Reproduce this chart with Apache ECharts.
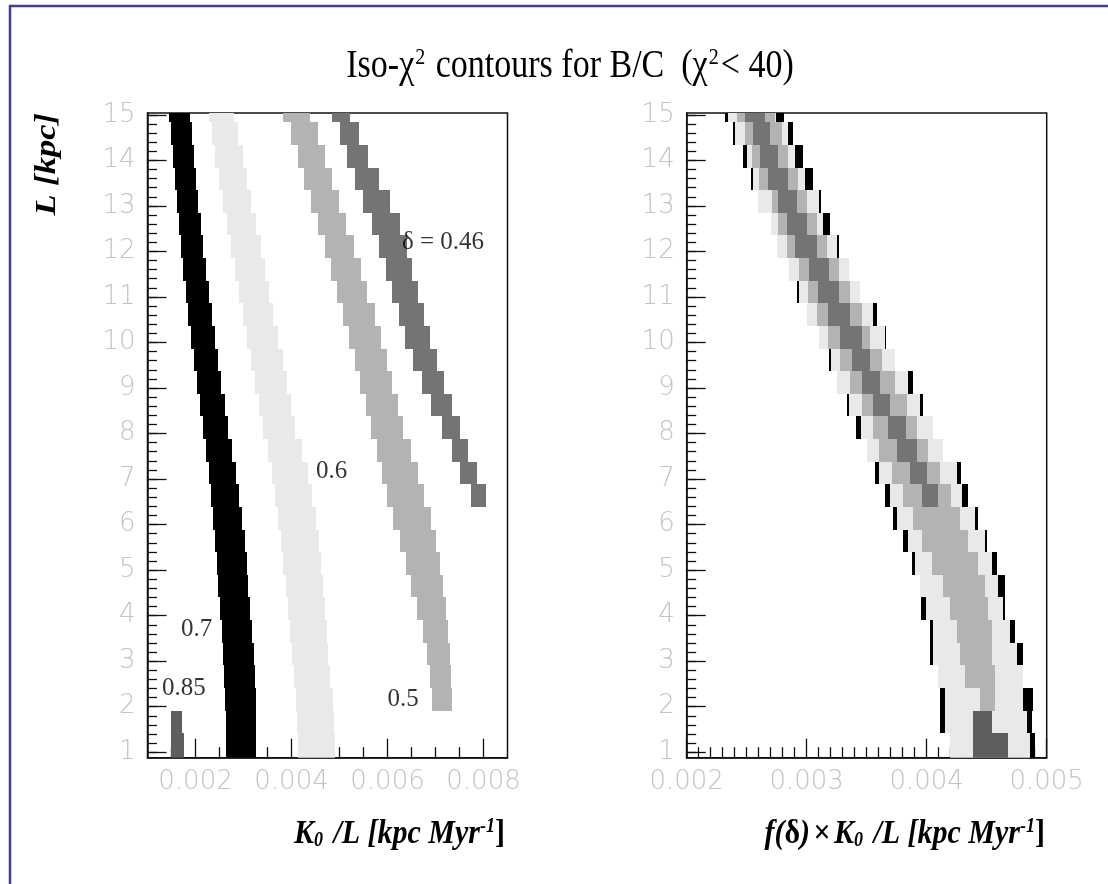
<!DOCTYPE html>
<html>
<head>
<meta charset="utf-8">
<script src="https://cdn.jsdelivr.net/npm/echarts@6/dist/echarts.min.js"></script>
<style>html,body{margin:0;padding:0;background:#fff;}#c{width:1108px;height:884px;}</style>
</head>
<body>
<div id="c"></div>
<script>
// ---------- DATA ----------
// L bin edges (kpc), 29 rows
const L_EDGES = [0.88, 1.417, 1.914, 2.411, 2.908, 3.405, 3.902, 4.399, 4.896, 5.393, 5.890, 6.387, 6.884, 7.381, 7.878, 8.375, 8.872, 9.369, 9.866, 10.363, 10.860, 11.357, 11.854, 12.351, 12.848, 13.345, 13.842, 14.339, 14.836, 15.04];

const Y_TICKS = [1, 2, 3, 4, 5, 6, 7, 8, 9, 10, 11, 12, 13, 14, 15];
const LEFT_X_TICKS = [0.002, 0.004, 0.006, 0.008];
const LEFT_X_MINOR = [0.0015, 0.0025, 0.003, 0.0035, 0.0045, 0.005, 0.0055, 0.0065, 0.007, 0.0075];
const RIGHT_X_TICKS = [0.002, 0.003, 0.004, 0.005];

// Left panel: K0/L extent [left, right] of each iso-chi2 band per L row (row 0 = bottom)
const LEFT_D085 = [[0.00148, 0.00175], [0.00148, 0.00171]];
const LEFT_D07 = [
  [0.00264, 0.00326], [0.00264, 0.00326], [0.00262, 0.00326], [0.00259, 0.00324], [0.00257, 0.00322],
  [0.00255, 0.00318], [0.00251, 0.00314], [0.00247, 0.00309], [0.00245, 0.00307], [0.00241, 0.00303],
  [0.00237, 0.00297], [0.00232, 0.00291], [0.00228, 0.00284], [0.00222, 0.00276], [0.00216, 0.00268],
  [0.00209, 0.00262], [0.00203, 0.00253], [0.00197, 0.00247], [0.00191, 0.00241], [0.00184, 0.00234],
  [0.00180, 0.00228], [0.00174, 0.00222], [0.00170, 0.00216], [0.00166, 0.00212], [0.00162, 0.00205],
  [0.00157, 0.00201], [0.00153, 0.00197], [0.00149, 0.00193], [0.00145, 0.00189]
];
const LEFT_D06 = [
  [0.00414, 0.00491], [0.00412, 0.00489], [0.00409, 0.00487], [0.00405, 0.00480], [0.00401, 0.00476],
  [0.00397, 0.00474], [0.00393, 0.00470], [0.00389, 0.00466], [0.00382, 0.00462], [0.00378, 0.00457],
  [0.00372, 0.00451], [0.00366, 0.00443], [0.00359, 0.00434], [0.00351, 0.00422], [0.00341, 0.00407],
  [0.00332, 0.00399], [0.00324, 0.00391], [0.00316, 0.00382], [0.00307, 0.00372], [0.00299, 0.00362],
  [0.00291, 0.00353], [0.00282, 0.00345], [0.00274, 0.00337], [0.00266, 0.00326], [0.00257, 0.00316],
  [0.00249, 0.00307], [0.00241, 0.00299], [0.00234, 0.00289], [0.00228, 0.00280]
];
const LEFT_D05 = [
  null, null, [0.00692, 0.00734], [0.00688, 0.00732], [0.00682, 0.00730],
  [0.00674, 0.00726], [0.00662, 0.00722], [0.00649, 0.00716], [0.00638, 0.00710], [0.00626, 0.00702],
  [0.00612, 0.00690], [0.00598, 0.00676], [0.00588, 0.00664], [0.00578, 0.00648], [0.00566, 0.00632],
  [0.00555, 0.00622], [0.00543, 0.00609], [0.00532, 0.00599], [0.00520, 0.00587], [0.00507, 0.00574],
  [0.00495, 0.00557], [0.00482, 0.00545], [0.00470, 0.00530], [0.00455, 0.00514], [0.00441, 0.00499],
  [0.00426, 0.00484], [0.00414, 0.00470], [0.00399, 0.00455], [0.00382, 0.00439]
];
const LEFT_D046 = [
  null, null, null, null, null, null, null, null, null, null, null,
  [0.00775, 0.00805], [0.00751, 0.00786], [0.00734, 0.00768], [0.00714, 0.00751],
  [0.00690, 0.00734], [0.00672, 0.00718], [0.00654, 0.00703], [0.00637, 0.00689], [0.00623, 0.00676],
  [0.00610, 0.00664], [0.00596, 0.00652], [0.00582, 0.00640], [0.00568, 0.00626], [0.00550, 0.00605],
  [0.00532, 0.00583], [0.00516, 0.00560], [0.00500, 0.00540], [0.00484, 0.00521]
];

// Right panel: f(delta) x K0/L extent [left, right] per L row (row 0 = bottom)
const RIGHT_D07 = [
  [0.004194, 0.004903], [0.004111, 0.004875], [0.004111, 0.004889], [0.004097, 0.004806], [0.004028, 0.004806],
  [0.004028, 0.004736], [0.003950, 0.004656], [0.003944, 0.004653], [0.003875, 0.004583], [0.003806, 0.004500],
  [0.003722, 0.004431], [0.003653, 0.004347], [0.003569, 0.004283], [0.003500, 0.004139], [0.003411, 0.004050],
  [0.003339, 0.003967], [0.003256, 0.003889], [0.003189, 0.003736], [0.003106, 0.003661], [0.003000, 0.003589],
  [0.002922, 0.003444], [0.002856, 0.003356], [0.002750, 0.003269], [0.002703, 0.003194], [0.002597, 0.003117],
  [0.002536, 0.003050], [0.002472, 0.002972], [0.002389, 0.002889], [0.002319, 0.002811]
];
const RIGHT_D06 = [
  [0.004194, 0.004861], [0.004153, 0.004833], [0.004153, 0.004806], [0.004097, 0.004800], [0.004050, 0.004750],
  [0.004050, 0.004694], [0.003994, 0.004639], [0.003944, 0.004597], [0.003903, 0.004542], [0.003847, 0.004486],
  [0.003750, 0.004403], [0.003694, 0.004292], [0.003603, 0.004250], [0.003500, 0.004139], [0.003450, 0.004050],
  [0.003356, 0.003944], [0.003256, 0.003847], [0.003203, 0.003736], [0.003106, 0.003653], [0.003000, 0.003556],
  [0.002939, 0.003444], [0.002856, 0.003356], [0.002750, 0.003256], [0.002703, 0.003133], [0.002597, 0.003106],
  [0.002550, 0.002986], [0.002506, 0.002903], [0.002406, 0.002847], [0.002347, 0.002744]
];
const RIGHT_D05 = [
  null, null, [0.004444, 0.004569], [0.004319, 0.004569], [0.004278, 0.004542],
  [0.004250, 0.004542], [0.004194, 0.004514], [0.004139, 0.004486], [0.004042, 0.004431], [0.003958, 0.004347],
  [0.003889, 0.004278], [0.003806, 0.004200], [0.003708, 0.004111], [0.003606, 0.004008], [0.003556, 0.003922],
  [0.003458, 0.003833], [0.003361, 0.003736], [0.003278, 0.003625], [0.003181, 0.003528], [0.003083, 0.003458],
  [0.003014, 0.003361], [0.002939, 0.003272], [0.002833, 0.003167], [0.002764, 0.003083], [0.002708, 0.003000],
  [0.002606, 0.002931], [0.002542, 0.002847], [0.002486, 0.002792], [0.002417, 0.002736]
];
const RIGHT_D046 = [
  null, null, null, null, null, null, null, null, null, null, null,
  [0.003958, 0.004097], [0.003861, 0.004000], [0.003750, 0.003917], [0.003681, 0.003825],
  [0.003556, 0.003694], [0.003458, 0.003611], [0.003375, 0.003528], [0.003278, 0.003458], [0.003181, 0.003361],
  [0.003097, 0.003272], [0.003022, 0.003189], [0.002903, 0.003083], [0.002833, 0.003000], [0.002764, 0.002917],
  [0.002681, 0.002847], [0.002611, 0.002764], [0.002556, 0.002694], [0.002486, 0.002653]
];
const RIGHT_D085 = [[0.004389, 0.004681], [0.004389, 0.004542]];

// Band annotations on the left panel: [text, K0/L, L]
const LABELS = [
  ['δ = 0.46', 0.0063, 12.2],
  ['0.6', 0.00451, 7.16],
  ['0.7', 0.0017, 3.69],
  ['0.85', 0.0013, 2.41],
  ['0.5', 0.0060, 2.17]
];

// ---------- BUILD ----------
const COLORS = { d085: '#5e5e5e', d07: '#000000', d06: '#e9e9e9', d05: '#b3b3b3', d046: '#747474' };

function cells(band) {
  const out = [];
  band.forEach((c, i) => { if (c) out.push([c[0], L_EDGES[i], c[1], L_EDGES[i + 1]]); });
  return out;
}
function renderCell(params, api) {
  const p0 = api.coord([api.value(0), api.value(3)]);
  const p1 = api.coord([api.value(2), api.value(1)]);
  const cs = params.coordSys;
  const x0 = Math.round(p0[0]), y0 = Math.round(p0[1]);
  const x1 = Math.round(p1[0]), y1 = Math.round(p1[1]);
  const r = echarts.graphic.clipRectByRect(
    { x: x0, y: y0, width: Math.max(1, x1 - x0), height: y1 - y0 },
    { x: cs.x, y: cs.y, width: cs.width, height: cs.height });
  if (!r) return null;
  return { type: 'rect', shape: r, style: { fill: api.visual('color') } };
}
function bandSeries(band, color, xi, yi) {
  return { type: 'custom', xAxisIndex: xi, yAxisIndex: yi, renderItem: renderCell,
    itemStyle: { color: color }, encode: { x: [0, 2], y: [1, 3] }, data: cells(band), silent: true, z: 3 };
}
function range(a, b, step, skip) {
  const r = [];
  for (let v = a; v <= b + step / 10; v += step) {
    const xv = +(Math.round(v / step) * step).toFixed(6);
    if (!skip || skip.indexOf(xv) < 0) r.push(xv);
  }
  return r;
}
const Y_MINOR = range(1, 15, 0.2);
const RIGHT_X_MINOR = range(0.0021, 0.0049, 0.0001, RIGHT_X_TICKS);

const Y_MIN = 0.88, Y_MAX = 15.04;
const tickLabelStyle = { color: '#c4c4c4', fontFamily: 'DejaVu Sans', fontWeight: 200, fontSize: 26 };
const axisLineStyle = { color: '#111', width: 1.5 };

function mainY(gi) {
  return { type: 'value', gridIndex: gi, min: Y_MIN, max: Y_MAX, position: 'left',
    axisLine: { show: true, lineStyle: axisLineStyle },
    axisTick: { show: true, inside: true, length: 19, customValues: Y_TICKS, lineStyle: { color: '#111', width: 1.3 } },
    axisLabel: Object.assign({ show: true, margin: 12, customValues: Y_TICKS, formatter: v => String(v) }, tickLabelStyle),
    splitLine: { show: false } };
}
function minorY(gi) {
  return { type: 'value', gridIndex: gi, min: Y_MIN, max: Y_MAX, position: 'left',
    axisLine: { show: false },
    axisTick: { show: true, inside: true, length: 9.5, customValues: Y_MINOR, lineStyle: { color: '#111', width: 1.3 } },
    axisLabel: { show: false }, splitLine: { show: false } };
}
function mainX(gi, min, max, ticks) {
  return { type: 'value', gridIndex: gi, min: min, max: max, position: 'bottom',
    axisLine: { show: true, lineStyle: axisLineStyle },
    axisTick: { show: true, inside: true, length: 19, customValues: ticks, lineStyle: { color: '#111', width: 1.3 } },
    axisLabel: Object.assign({ show: true, margin: 12, customValues: ticks, formatter: v => v.toFixed(3) }, tickLabelStyle),
    splitLine: { show: false } };
}
function minorX(gi, min, max, ticks) {
  return { type: 'value', gridIndex: gi, min: min, max: max, position: 'bottom',
    axisLine: { show: false },
    axisTick: { show: true, inside: true, length: 10.5, customValues: ticks, lineStyle: { color: '#111', width: 1.3 } },
    axisLabel: { show: false }, splitLine: { show: false } };
}

const serif = 'Liberation Serif';
const titleRich = {
  a: { fontFamily: serif, fontSize: 34, fill: '#000', color: '#000' },
  s: { fontFamily: serif, fontSize: 20, fill: '#000', color: '#000', verticalAlign: 'top', padding: [0, 2, 0, 1] }
};
const axRich = {
  a: { fontFamily: serif, fontSize: 30, fontWeight: 'bold', fontStyle: 'italic', fill: '#000', color: '#000' },
  n: { fontFamily: serif, fontSize: 30, fontWeight: 'bold', fill: '#000', color: '#000' },
  sub: { fontFamily: serif, fontSize: 18, fontWeight: 'bold', fontStyle: 'italic', fill: '#000', color: '#000', verticalAlign: 'bottom', padding: [0, 3, 0, 0] },
  sup: { fontFamily: serif, fontSize: 18, fontWeight: 'bold', fontStyle: 'italic', fill: '#000', color: '#000', verticalAlign: 'top' }
};

const option = {
  animation: false,
  backgroundColor: '#ffffff',
  grid: [
    { left: 147.5, top: 113, width: 360, height: 644.7, show: true, borderColor: '#111', borderWidth: 1.5, backgroundColor: 'transparent', containLabel: false },
    { left: 686.7, top: 113, width: 360, height: 644.7, show: true, borderColor: '#111', borderWidth: 1.5, backgroundColor: 'transparent', containLabel: false }
  ],
  xAxis: [
    mainX(0, 0.001, 0.0085, LEFT_X_TICKS),
    minorX(0, 0.001, 0.0085, LEFT_X_MINOR),
    mainX(1, 0.002, 0.005, RIGHT_X_TICKS),
    minorX(1, 0.002, 0.005, RIGHT_X_MINOR)
  ],
  yAxis: [mainY(0), minorY(0), mainY(1), minorY(1)],
  series: [
    bandSeries(LEFT_D07, COLORS.d07, 0, 0),
    bandSeries(LEFT_D06, COLORS.d06, 0, 0),
    bandSeries(LEFT_D05, COLORS.d05, 0, 0),
    bandSeries(LEFT_D046, COLORS.d046, 0, 0),
    bandSeries(LEFT_D085, COLORS.d085, 0, 0),
    bandSeries(RIGHT_D07, COLORS.d07, 2, 2),
    bandSeries(RIGHT_D06, COLORS.d06, 2, 2),
    bandSeries(RIGHT_D05, COLORS.d05, 2, 2),
    bandSeries(RIGHT_D046, COLORS.d046, 2, 2),
    bandSeries(RIGHT_D085, COLORS.d085, 2, 2),
    {
      type: 'scatter', xAxisIndex: 0, yAxisIndex: 0, symbolSize: 0, silent: true, z: 5,
      data: LABELS.map(l => ({ name: l[0], value: [l[1], l[2]] })),
      label: { show: true, position: 'right', distance: 0, formatter: p => p.name,
        fontFamily: serif, fontSize: 25, color: '#000', align: 'left', verticalAlign: 'middle' }
    }
  ],
  graphic: [
    { type: 'rect', silent: true, shape: { x: 10, y: 6, width: 1300, height: 1000 },
      style: { fill: 'none', stroke: '#3d3d9e', lineWidth: 2.5 } },
    { type: 'text', x: 570, y: 66, scaleY: 1.2, silent: true,
      style: { text: '{a|Iso-χ}{s|2}{a| contours for B/C  (χ}{s|2}{a|< 40)}', rich: titleRich,
        align: 'center', verticalAlign: 'middle', textAlign: 'center', textVerticalAlign: 'middle' } },
    { type: 'text', x: 505, y: 834, scaleY: 1.15, silent: true,
      style: { text: '{a|K}{sub|0}{a| /L [kpc Myr}{sup|-1}{n|]}', rich: axRich,
        align: 'right', verticalAlign: 'middle', textAlign: 'right', textVerticalAlign: 'middle' } },
    { type: 'text', x: 1045, y: 834, scaleY: 1.15, silent: true,
      style: { text: '{a|f(}{n|δ}{a|)} {n|×} {a|K}{sub|0}{a| /L [kpc Myr}{sup|-1}{n|]}', rich: axRich,
        align: 'right', verticalAlign: 'middle', textAlign: 'right', textVerticalAlign: 'middle' } },
    { type: 'text', x: 47, y: 113, rotation: Math.PI / 2, scaleX: 1.15, silent: true,
      style: { text: '{a|L [kpc]}', rich: axRich,
        align: 'right', verticalAlign: 'middle', textAlign: 'right', textVerticalAlign: 'middle' } }
  ]
};

const chart = echarts.init(document.getElementById('c'), null, { renderer: 'canvas' });
chart.setOption(option);
</script>
</body>
</html>
